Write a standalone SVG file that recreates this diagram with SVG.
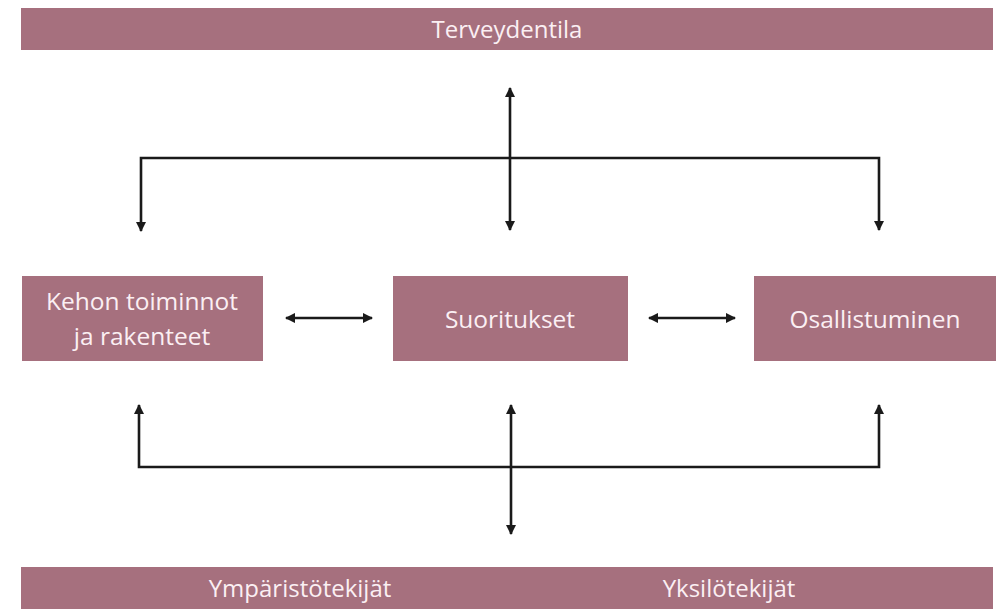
<svg xmlns="http://www.w3.org/2000/svg" width="997" height="609" viewBox="0 0 997 609">
<style>
.box{fill:#A6707E;}
.t{font-family:"Open Sans","Liberation Sans",sans-serif;fill:#FBEFF3;text-anchor:middle;}
.big{font-size:24.5px;}
.bar{font-size:24px;}
.c{stroke:#1a1a1a;stroke-width:2.6;fill:none;}
</style>
<defs>
<marker id="ah" viewBox="0 0 10 10" refX="9" refY="5" markerWidth="4" markerHeight="4" orient="auto-start-reverse" markerUnits="strokeWidth">
<path d="M0,0 L10,5 L0,10 z" fill="#1a1a1a"/>
</marker>
</defs>
<rect width="997" height="609" fill="#ffffff"/>
<g id="terveydentila">
<rect class="box" x="21" y="8" width="972" height="42"/>
<text class="t bar" x="507" y="38">Terveydentila</text>
</g>
<g id="kehon">
<rect class="box" x="22" y="276" width="241" height="85"/>
<text class="t big" x="142" y="310">Kehon toiminnot</text>
<text class="t big" x="142" y="345">ja rakenteet</text>
</g>
<g id="suoritukset">
<rect class="box" x="393" y="276" width="235" height="85"/>
<text class="t big" x="510" y="328">Suoritukset</text>
</g>
<g id="osallistuminen">
<rect class="box" x="754" y="276" width="242" height="85"/>
<text class="t big" x="875" y="328">Osallistuminen</text>
</g>
<g id="tekijat">
<rect class="box" x="21" y="567" width="972" height="42"/>
<text class="t bar" x="300" y="597">Ympäristötekijät</text>
<text class="t bar" x="729" y="597">Yksilötekijät</text>
</g>
<g id="connectors">
<path class="c" d="M510,88 L510,230" marker-start="url(#ah)" marker-end="url(#ah)"/>
<path class="c" d="M141,231 L141,158 L879,158 L879,230" marker-start="url(#ah)" marker-end="url(#ah)"/>
<path class="c" d="M286,318 L372,318" marker-start="url(#ah)" marker-end="url(#ah)"/>
<path class="c" d="M649,318 L735,318" marker-start="url(#ah)" marker-end="url(#ah)"/>
<path class="c" d="M139,405 L139,467 L879,467 L879,405" marker-start="url(#ah)" marker-end="url(#ah)"/>
<path class="c" d="M511,405 L511,534" marker-start="url(#ah)" marker-end="url(#ah)"/>
</g>
</svg>
